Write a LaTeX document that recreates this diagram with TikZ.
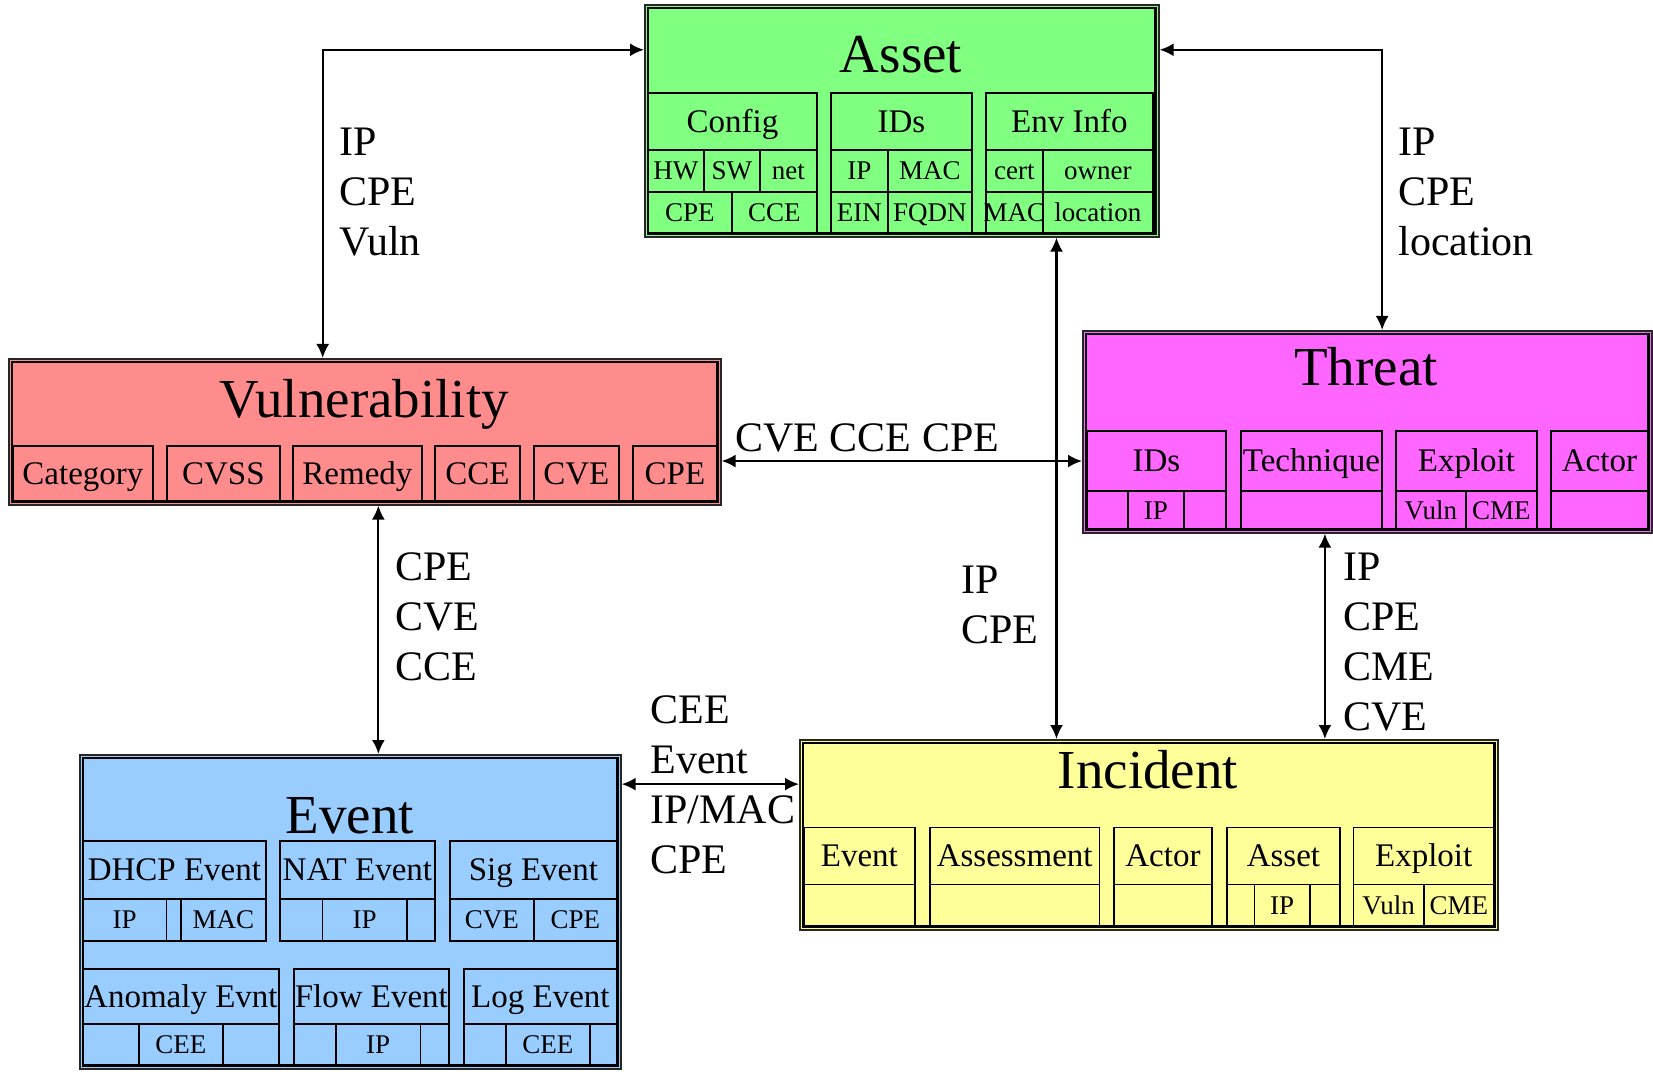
\documentclass[tikz,border=0pt]{standalone}
\usepackage{fontspec}
\setmainfont{Liberation Serif}
\usetikzlibrary{calc,arrows.meta}

\definecolor{assetfill}{RGB}{128,255,128}
\definecolor{vulnfill}{RGB}{255,140,140}
\definecolor{threatfill}{RGB}{255,102,255}
\definecolor{eventfill}{RGB}{153,204,255}
\definecolor{incidentfill}{RGB}{255,255,153}

\tikzset{
  panel/.style={draw=black!85, line width=0.8pt, anchor=north west, inner sep=0pt},
  rim/.style={draw=black, line width=1.3pt},
  cellbox/.style={draw=black, line width=0.9pt, anchor=north west, inner sep=0pt},
  headfont/.style={font=\fontsize{16.5}{18}\selectfont, text height=10.9pt, text depth=0pt},
  rowfont/.style={font=\fontsize{13.5}{15}\selectfont, text height=8.9pt, text depth=0pt},
  titlefont/.style={font=\fontsize{27.5}{30}\selectfont, anchor=base, inner sep=0pt},
  % multi-line labels: the base anchor sits on the last line
  linktext/.style={font=\fontsize{21}{25}\selectfont, anchor=base west, align=left, inner sep=0pt},
  link/.style={line width=1.1pt, {Latex[length=7pt,width=6.5pt]}-{Latex[length=7pt,width=6.5pt]}},
}

% cell: [style]{name}{x1}{y1}{x2}{y2}{text}
\newcommand\cellat[7][]{%
  \node[cellbox,#1,minimum width={(#5-#3)*0.5pt},minimum height={(#6-#4)*0.5pt}]
    (#2) at (#3,#4) {\makebox[0pt]{#7}};}
% panel: {name}{fill}{x1}{y1}{x2}{y2}
\newcommand\panelat[6]{%
  \node[panel,fill=#2,minimum width={(#5-#3)*0.5pt},minimum height={(#6-#4)*0.5pt}]
    (#1) at (#3,#4) {};
  \draw[rim] ($(#1.north west)+(4,4)$) rectangle ($(#1.south east)+(-4,-4)$);}

\begin{document}
\begin{tikzpicture}[x=0.5pt,y=-0.5pt]
\useasboundingbox (0,0) rectangle (1653,1074);

% ---------------- Asset ----------------
\panelat{asset}{assetfill}{644}{4}{1158}{236}
\node[titlefont] (assetT) at (901,73) {Asset};
\cellat[headfont]{cfg}{647}{92}{816}{149}{Config}
\cellat[rowfont]{cfgHW}{647}{149}{703}{191}{HW}
\cellat[rowfont]{cfgSW}{703}{149}{759}{191}{SW}
\cellat[rowfont]{cfgNet}{759}{149}{816}{191}{net}
\cellat[rowfont]{cfgCPE}{647}{191}{731}{233}{CPE}
\cellat[rowfont]{cfgCCE}{731}{191}{816}{233}{CCE}
\cellat[headfont]{aids}{830}{92}{971}{149}{IDs}
\cellat[rowfont]{aidsIP}{830}{149}{887}{191}{IP}
\cellat[rowfont]{aidsMAC}{887}{149}{971}{191}{MAC}
\cellat[rowfont]{aidsEIN}{830}{191}{887}{233}{EIN}
\cellat[rowfont]{aidsFQDN}{887}{191}{971}{233}{FQDN}
\cellat[headfont]{env}{985}{92}{1152}{149}{Env Info}
\cellat[rowfont]{envCert}{985}{149}{1042}{191}{cert}
\cellat[rowfont]{envOwner}{1042}{149}{1152}{191}{owner}
\cellat[rowfont]{envMAC}{985}{191}{1042}{233}{MAC}
\cellat[rowfont]{envLoc}{1042}{191}{1152}{233}{location}

% ---------------- Vulnerability ----------------
\panelat{vuln}{vulnfill}{8}{358}{720}{504}
\node[titlefont] (vulnT) at (364,418) {Vulnerability};
\cellat[headfont]{vCat}{12}{445}{152}{501}{Category}
\cellat[headfont]{vCVSS}{166}{445}{279}{501}{CVSS}
\cellat[headfont]{vRem}{292}{445}{421}{501}{Remedy}
\cellat[headfont]{vCCE}{434}{445}{519}{501}{CCE}
\cellat[headfont]{vCVE}{533}{445}{618}{501}{CVE}
\cellat[headfont]{vCPE}{632}{445}{716}{501}{CPE}

% ---------------- Threat ----------------
\panelat{threat}{threatfill}{1082}{330}{1651}{532}
\node[titlefont] (threatT) at (1366,386) {Threat};
\cellat[headfont]{tIDs}{1086}{430}{1225}{490}{IDs}
\cellat[rowfont]{tIDsA}{1086}{490}{1127}{529}{}
\cellat[rowfont]{tIDsIP}{1127}{490}{1183}{529}{IP}
\cellat[rowfont]{tIDsB}{1183}{490}{1225}{529}{}
\cellat[headfont]{tTech}{1240}{430}{1381}{490}{Technique}
\cellat[rowfont]{tTechRow}{1240}{490}{1381}{529}{}
\cellat[headfont]{tExp}{1395}{430}{1536}{490}{Exploit}
\cellat[rowfont]{tExpVuln}{1395}{490}{1465}{529}{Vuln}
\cellat[rowfont]{tExpCME}{1465}{490}{1536}{529}{CME}
\cellat[headfont]{tAct}{1550}{430}{1647}{490}{Actor}
\cellat[rowfont]{tActRow}{1550}{490}{1647}{529}{}

% ---------------- Event ----------------
\panelat{event}{eventfill}{79}{754}{620}{1068}
\node[titlefont] (eventT) at (350,833) {Event};
\cellat[headfont]{eDHCP}{82}{840}{265}{898}{DHCP Event}
\cellat[rowfont]{eDHCPip}{82}{898}{165.5}{940}{IP}
\cellat[rowfont]{eDHCPgap}{165.5}{898}{180}{940}{}
\cellat[rowfont]{eDHCPmac}{180}{898}{265}{940}{MAC}
\cellat[headfont]{eNAT}{279}{840}{434}{898}{NAT Event}
\cellat[rowfont]{eNATa}{279}{898}{321.5}{940}{}
\cellat[rowfont]{eNATip}{321.5}{898}{406}{940}{IP}
\cellat[rowfont]{eNATb}{406}{898}{434}{940}{}
\cellat[headfont]{eSig}{449}{840}{616}{898}{Sig Event}
\cellat[rowfont]{eSigCVE}{449}{898}{533}{940}{CVE}
\cellat[rowfont]{eSigCPE}{533}{898}{616}{940}{CPE}
\cellat[headfont]{eAno}{82}{968}{278}{1023}{Anomaly Evnt}
\cellat[rowfont]{eAnoA}{82}{1023}{138}{1065}{}
\cellat[rowfont]{eAnoCEE}{138}{1023}{222}{1065}{CEE}
\cellat[rowfont]{eAnoB}{222}{1023}{278}{1065}{}
\cellat[headfont]{eFlow}{293}{968}{448}{1023}{Flow Event}
\cellat[rowfont]{eFlowA}{293}{1023}{335}{1065}{}
\cellat[rowfont]{eFlowIP}{335}{1023}{419.5}{1065}{IP}
\cellat[rowfont]{eFlowB}{419.5}{1023}{448}{1065}{}
\cellat[headfont]{eLog}{463}{968}{616}{1023}{Log Event}
\cellat[rowfont]{eLogA}{463}{1023}{505}{1065}{}
\cellat[rowfont]{eLogCEE}{505}{1023}{589}{1065}{CEE}
\cellat[rowfont]{eLogB}{589}{1023}{616}{1065}{}

% ---------------- Incident ----------------
\panelat{incident}{incidentfill}{799}{739}{1497}{929}
\node[titlefont] (incidentT) at (1148,788) {Incident};
\cellat[headfont]{iEvt}{803}{826.5}{914}{883.5}{Event}
\cellat[rowfont]{iEvtRow}{803}{883.5}{914}{925.5}{}
\cellat[headfont]{iAss}{929}{826.5}{1098.5}{883.5}{Assessment}
\cellat[rowfont]{iAssRow}{929}{883.5}{1098.5}{925.5}{}
\cellat[headfont]{iAct}{1113}{826.5}{1211}{883.5}{Actor}
\cellat[rowfont]{iActRow}{1113}{883.5}{1211}{925.5}{}
\cellat[headfont]{iAst}{1226}{826.5}{1339}{883.5}{Asset}
\cellat[rowfont]{iAstA}{1226}{883.5}{1253.5}{925.5}{}
\cellat[rowfont]{iAstIP}{1253.5}{883.5}{1309}{925.5}{IP}
\cellat[rowfont]{iAstB}{1309}{883.5}{1339}{925.5}{}
\cellat[headfont]{iExp}{1352.5}{826.5}{1493}{883.5}{Exploit}
\cellat[rowfont]{iExpVuln}{1352.5}{883.5}{1423}{925.5}{Vuln}
\cellat[rowfont]{iExpCME}{1423}{883.5}{1493}{925.5}{CME}

% ---------------- Connectors ----------------
\draw[link] ($(asset.north west)!0.196!(asset.south west)$)
  -| ($(vuln.north west)!0.441!(vuln.north east)$);
\draw[link] ($(asset.north east)!0.196!(asset.south east)$)
  -| ($(threat.north west)!0.526!(threat.north east)$);
\draw[link] ($(vuln.north east)!0.698!(vuln.south east)$) coordinate (vtL)
  -- (vtL -| threat.west);
\draw[link] ($(asset.south west)!0.80!(asset.south east)$) coordinate (aiT)
  -- (aiT |- incident.north);
\draw[link] ($(vuln.south west)!0.519!(vuln.south east)$) coordinate (veT)
  -- (veT |- event.north);
\draw[link] ($(threat.south west)!0.4257!(threat.south east)$) coordinate (tiT)
  -- (tiT |- incident.north);
\draw[link] ($(event.north east)!0.0955!(event.south east)$) coordinate (eiL)
  -- (eiL -| incident.west);

% ---------------- Connector labels (positions are last-line baselines) ----------------
\node[linktext] (lblAV) at (339,256) {IP\\CPE\\Vuln};
\node[linktext] (lblAT) at (1398,256) {IP\\CPE\\location};
\node[linktext] (lblVT) at (735,452) {CVE CCE CPE};
\node[linktext] (lblAI) at (961,643) {IP\\CPE};
\node[linktext] (lblVE) at (395,680) {CPE\\CVE\\CCE};
\node[linktext] (lblTI) at (1343,730) {IP\\CPE\\CME\\CVE};
\node[linktext] (lblEI) at (650,873) {CEE\\Event\\IP/MAC\\CPE};
\end{tikzpicture}
\end{document}
